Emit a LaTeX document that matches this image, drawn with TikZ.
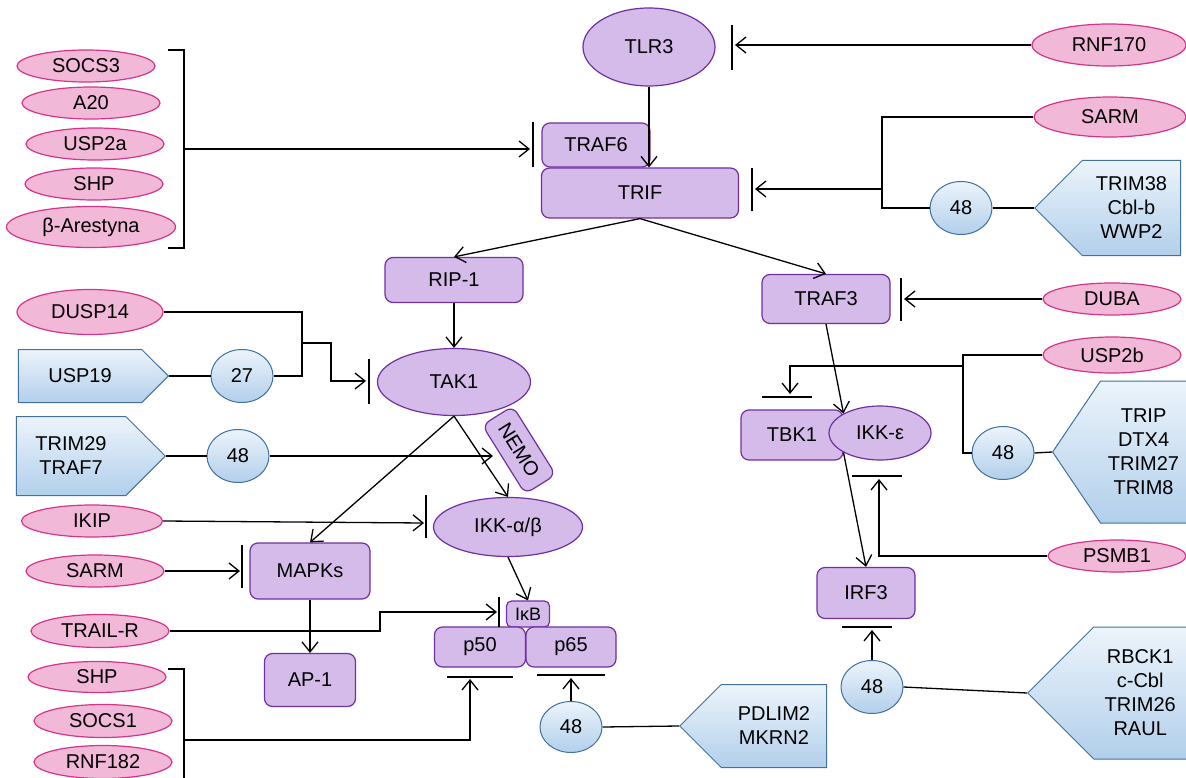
\documentclass[tikz,border=0pt]{standalone}
\usepackage{fontspec}
\setmainfont{Liberation Sans}
\usetikzlibrary{shapes.geometric,shapes.symbols,arrows.meta}

\definecolor{pinkfill}{RGB}{242,184,216}
\definecolor{pinkdraw}{RGB}{214,51,138}
\definecolor{purpfill}{RGB}{212,187,233}
\definecolor{purpdraw}{RGB}{112,48,160}
\definecolor{bluetop}{RGB}{236,244,251}
\definecolor{bluebot}{RGB}{178,207,235}
\definecolor{bluedraw}{RGB}{65,113,156}

\tikzset{
	base/.style={font=\fontsize{20}{24}\selectfont, inner sep=0pt, line width=1.2pt},
	pinkell/.style={base, ellipse, draw=pinkdraw, fill=pinkfill, minimum width=138pt, minimum height=32pt},
	prot/.style={base, rectangle, rounded corners=8pt, draw=purpdraw, fill=purpfill},
	protell/.style={base, ellipse, draw=purpdraw, fill=purpfill},
	ubq/.style={base, ellipse, line width=1pt, draw=bluedraw, top color=bluetop, bottom color=bluebot, minimum width=62pt, minimum height=53pt},
	ligase/.style={base, signal, line width=1pt, draw=bluedraw, top color=bluetop, bottom color=bluebot, align=center},
	link/.style={line width=1.3pt},
	act/.style={link, -{Straight Barb[length=10pt,width=16pt]}},
	tbar/.style={line width=1.3pt}
}

\begin{document}
\begin{tikzpicture}[x=1pt, y=-1pt]
	\useasboundingbox (0,0) rectangle (1186,778);

	% inhibitors, top left
	\node[pinkell] (socs3) at (86,66) {SOCS3};
	\node[pinkell] (a20) at (91,103) {A20};
	\node[pinkell] (usp2a) at (95,144) {USP2a};
	\node[pinkell] (shpa) at (94,184) {SHP};
	\node[pinkell, minimum width=169pt, minimum height=41pt] (barr) at (91,227) {β-Arestyna};

	% main pathway
	\node[protell, minimum width=132pt, minimum height=78pt] (tlr3) at (649,47) {TLR3};
	\node[prot, minimum width=108pt, minimum height=44pt] (traf6) at (596,145) {TRAF6};
	\node[prot, minimum width=197pt, minimum height=50pt] (trif) at (640,193) {TRIF};
	\node[prot, minimum width=138pt, minimum height=45pt] (rip1) at (454,280) {RIP-1};
	\node[prot, minimum width=128pt, minimum height=49pt] (traf3) at (826,299) {TRAF3};
	\node[protell, minimum width=153pt, minimum height=67pt] (tak1) at (454,382) {TAK1};
	\node[prot, rotate=-58, minimum width=81pt, minimum height=36pt] (nemo) at (519,450) {NEMO};
	\node[protell, minimum width=149pt, minimum height=59pt] (ikkab) at (508,527) {IKK-α/β};
	\node[prot, minimum width=120pt, minimum height=56pt] (mapks) at (310,571) {MAPKs};
	\node[prot, minimum width=91pt, minimum height=53pt] (ap1) at (310,680) {AP-1};
	\node[prot, rounded corners=5pt, font=\fontsize{18}{20}\selectfont, minimum width=43pt, minimum height=26pt] (ikb) at (528,614) {IκB};
	\node[prot, minimum width=91pt, minimum height=40pt] (p50) at (480,647) {p50};
	\node[prot, minimum width=90pt, minimum height=40pt] (p65) at (571,647) {p65};
	\node[prot, minimum width=102pt, minimum height=50pt] (tbk1) at (792,435) {TBK1};
	\node[protell, minimum width=102pt, minimum height=54pt] (ikke) at (880,433) {IKK-ε};
	\node[prot, minimum width=98pt, minimum height=51pt] (irf3) at (866,593) {IRF3};

	% right side regulators
	\node[pinkell, minimum width=154pt, minimum height=42pt] (rnf170) at (1109,45) {RNF170};
	\node[pinkell, minimum width=152pt, minimum height=40pt] (sarmr) at (1110,117) {SARM};
	\node[ubq] (ubtrif) at (961,208) {48};
	\node[ligase, signal to=west, minimum width=146pt, minimum height=95pt, anchor=west] (ligtrif) at (1034,208) {TRIM38\\Cbl-b\\WWP2};
	\node[pinkell] (duba) at (1112,299) {DUBA};
	\node[pinkell, minimum height=36pt] (usp2b) at (1112,355) {USP2b};
	\node[ubq] (ubtbk) at (1003,453) {48};
	\node[ligase, signal to=west, signal pointer angle=112, minimum width=134pt, minimum height=142pt, anchor=west] (ligtbk) at (1052,452) {TRIP\\DTX4\\TRIM27\\TRIM8};
	\node[pinkell] (psmb1) at (1117,556) {PSMB1};
	\node[ubq] (ubirf) at (872,687) {48};
	\node[ligase, signal to=west, minimum width=159pt, minimum height=132pt, anchor=west] (ligirf) at (1027,693) {RBCK1\\c-Cbl\\TRIM26\\RAUL};

	% left side regulators
	\node[pinkell, minimum width=146pt, minimum height=45pt] (dusp14) at (90,312) {DUSP14};
	\node[ligase, signal to=east, minimum width=150pt, minimum height=53pt, anchor=east] (usp19) at (169,376) {USP19};
	\node[ubq] (ubtak) at (242,376) {27};
	\node[ligase, signal to=east, minimum width=149pt, minimum height=79pt, anchor=east] (trim29) at (166,456) {TRIM29\\TRAF7};
	\node[ubq] (ubnemo) at (238,456) {48};
	\node[pinkell, minimum width=141pt] (ikip) at (92,521) {IKIP};
	\node[pinkell] (sarml) at (95,571) {SARM};
	\node[pinkell, minimum height=33pt] (trailr) at (100,631) {TRAIL-R};
	\node[pinkell, minimum height=31pt] (shpb) at (97,677) {SHP};
	\node[pinkell, minimum height=33pt] (socs1) at (103,721) {SOCS1};
	\node[pinkell, minimum height=33pt] (rnf182) at (103,762) {RNF182};
	\node[ubq, minimum height=51pt] (ubp65) at (571,727) {48};
	\node[ligase, signal to=west, minimum width=147pt, minimum height=83pt, anchor=west] (ligp65) at (679,726) {PDLIM2\\MKRN2};

	% brackets
	\draw[link] (168,50) -- (184,50) -- (184,248) -- (168,248);
	\draw[link] (168,669) -- (184,669) -- (184,790);
	\coordinate (brk1) at (184,149);
	\coordinate (brk2) at (184,740);

	% activation
	\draw[act] (tlr3.south) -- (tlr3.south |- trif.north);
	\draw[act] (trif.south) -- (rip1.north);
	\draw[act] (trif.south) -- (traf3.north);
	\draw[act] (rip1.south) -- (tak1.north);
	\draw[act] (tak1.south) -- (mapks.north);
	\draw[act] (tak1.south) -- (ikkab.north);
	\draw[act] (mapks.south) -- (ap1.north);
	\draw[act] (ikkab.south) -- (ikb.north);
	\draw[act] (traf3.south) -- (ikke.north west);
	\draw[act] (ikke.south west) -- (irf3.north);

	% inhibition
	\draw[act] (brk1) -- (530,149);
	\draw[tbar] (533,122) -- (533,167);
	\draw[act] (rnf170.west) -- (735,45);
	\draw[tbar] (732,25) -- (732,70);
	\coordinate (jtrif) at (882,189);
	\draw[link] (sarmr.west) -| (882,208) -- (ubtrif.west);
	\draw[act] (jtrif) -- (755,189);
	\draw[tbar] (752,168) -- (752,211);
	\draw[link] (ubtrif.east) -- (ligtrif.west);
	\draw[act] (duba.west) -- (904,299);
	\draw[tbar] (901,278) -- (901,321);
	\coordinate (jtbk) at (963,366);
	\draw[link] (usp2b.west) -| (963,453) -- (ubtbk.west);
	\draw[act] (jtbk) -| (790,394);
	\draw[tbar] (762,397) -- (812,397);
	\draw[link] (ubtbk.east) -- (ligtbk.west);
	\draw[act] (psmb1.west) -| (879,479);
	\draw[tbar] (852,476) -- (902,476);
	\draw[act] (ubirf.north) -- (872,630);
	\draw[tbar] (842,627) -- (892,627);
	\draw[link] (ubirf.east) -- (ligirf.west);

	\coordinate (jtak) at (302,343);
	\draw[link] (dusp14.east) -| (302,376) -- (ubtak.east);
	\draw[link] (usp19.east) -- (ubtak.west);
	\draw[act] (jtak) -- (331,343) |- (366,381);
	\draw[tbar] (369,359) -- (369,404);
	\draw[link] (trim29.east) -- (ubnemo.west);
	\draw[act] (ubnemo.east) -- (493,456);
	\draw[act] (ikip.east) -- (424,523);
	\draw[tbar] (426,495) -- (426,538);
	\draw[act] (sarml.east) -- (240,571);
	\draw[tbar] (242,545) -- (242,588);
	\draw[act] (trailr.east) -- (380,631) |- (497,612);
	\draw[tbar] (499,597) -- (499,627);
	\draw[act] (brk2) -| (470,679);
	\draw[tbar] (447,677) -- (513,677);
	\draw[act] (ubp65.north) -- (571,678);
	\draw[tbar] (537,675) -- (605,675);
	\draw[link] (ubp65.east) -- (ligp65.west);
\end{tikzpicture}
\end{document}
